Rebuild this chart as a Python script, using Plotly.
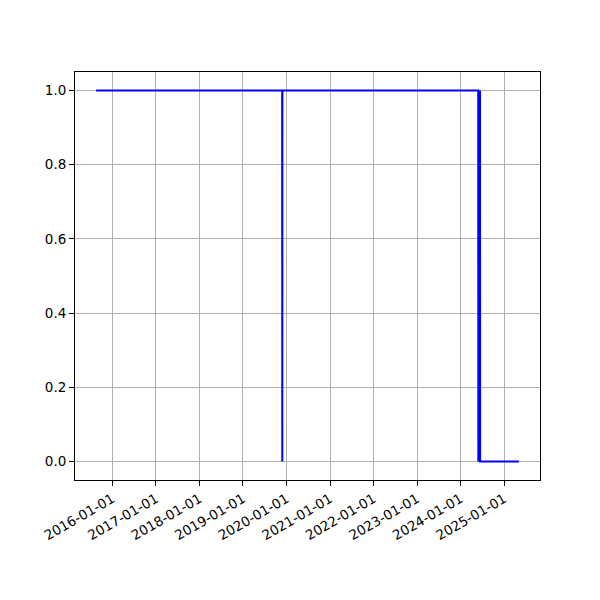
import plotly.graph_objects as go
import pandas as pd

# Data
dates = ["2015-08-18", "2019-11-26", "2019-11-27", "2019-11-28",
         "2024-05-28", "2024-05-29", "2024-06-03", "2024-06-05", "2024-06-10", "2024-06-12",
         "2024-06-13", "2025-05-04"]
values = [1, 1, 0, 1,
          1, 0, 1, 0, 1, 1,
          0, 0]
tick_dates = ["2016-01-01", "2017-01-01", "2018-01-01", "2019-01-01", "2020-01-01",
              "2021-01-01", "2022-01-01", "2023-01-01", "2024-01-01", "2025-01-01"]
y_ticks = [0.0, 0.2, 0.4, 0.6, 0.8, 1.0]

d = pd.to_datetime(dates)
span = d.max() - d.min()
xr = [d.min() - span * 0.05, d.max() + span * 0.05]

fig = go.Figure()
fig.add_trace(go.Scatter(x=d, y=values, mode="lines",
                         line=dict(color="#0000ff", width=2), showlegend=False))

axis_common = dict(showline=True, linecolor="black", linewidth=1, mirror=True,
                   ticks="outside", ticklen=5, tickwidth=1, tickcolor="black",
                   showgrid=True, gridcolor="#b0b0b0", gridwidth=1, zeroline=False,
                   automargin=False,
                   tickfont=dict(family="DejaVu Sans", size=13.5, color="black"))

fig.update_layout(
    width=592, height=592,
    margin=dict(l=67, r=60, t=64, b=120),
    paper_bgcolor="white", plot_bgcolor="white",
    xaxis=dict(range=xr, tickvals=pd.to_datetime(tick_dates), ticktext=tick_dates,
               tickangle=-30, **axis_common),
    yaxis=dict(range=[-0.05, 1.05], tickvals=y_ticks,
               ticktext=[f"{v:.1f}" for v in y_ticks], **axis_common),
)

fig.write_html("out.html")
